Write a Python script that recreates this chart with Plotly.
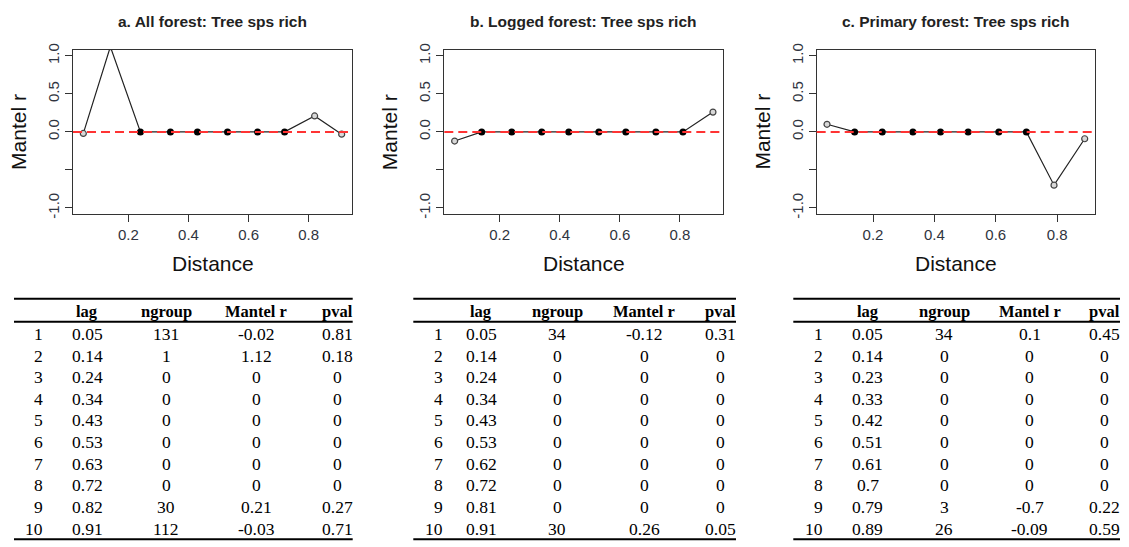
import plotly.graph_objects as go

W, H = 1129, 547

titles = ["a. All forest: Tree sps rich", "b. Logged forest: Tree sps rich", "c. Primary forest: Tree sps rich"]
row_ids = [1, 2, 3, 4, 5, 6, 7, 8, 9, 10]

lag_a = [0.05, 0.14, 0.24, 0.34, 0.43, 0.53, 0.63, 0.72, 0.82, 0.91]
ngroup_a = [131, 1, 0, 0, 0, 0, 0, 0, 30, 112]
mantel_a = [-0.02, 1.12, 0, 0, 0, 0, 0, 0, 0.21, -0.03]
pval_a = [0.81, 0.18, 0, 0, 0, 0, 0, 0, 0.27, 0.71]

lag_b = [0.05, 0.14, 0.24, 0.34, 0.43, 0.53, 0.62, 0.72, 0.81, 0.91]
ngroup_b = [34, 0, 0, 0, 0, 0, 0, 0, 0, 30]
mantel_b = [-0.12, 0, 0, 0, 0, 0, 0, 0, 0, 0.26]
pval_b = [0.31, 0, 0, 0, 0, 0, 0, 0, 0, 0.05]

lag_c = [0.05, 0.14, 0.23, 0.33, 0.42, 0.51, 0.61, 0.7, 0.79, 0.89]
ngroup_c = [34, 0, 0, 0, 0, 0, 0, 0, 3, 26]
mantel_c = [0.1, 0, 0, 0, 0, 0, 0, 0, -0.7, -0.09]
pval_c = [0.45, 0, 0, 0, 0, 0, 0, 0, 0.22, 0.59]

col_headers = ["lag", "ngroup", "Mantel r", "pval"]
x_ticks = [0.2, 0.4, 0.6, 0.8]
y_ticks = [-1.0, -0.5, 0.0, 0.5, 1.0]
y_ticktext = ["-1.0", "", "0.0", "0.5", "1.0"]

panels = [
    dict(lag=lag_a, ng=ngroup_a, mr=mantel_a, pv=pval_a),
    dict(lag=lag_b, ng=ngroup_b, mr=mantel_b, pv=pval_b),
    dict(lag=lag_c, ng=ngroup_c, mr=mantel_c, pv=pval_c),
]

# layout geometry (pixels)
box_x = [(73, 352), (444.3, 723.3), (816.7, 1095)]
box_y = (43.7, 211.7)
tbl_x = [(14, 352.7), (413.3, 736), (793.3, 1120)]
tbl_cols = [
    (45, 87.3, 166, 256, 337),
    (445, 481, 557, 644, 720),
    (825, 867.8, 944, 1029.5, 1104),
]

def px(x):
    return x / W

def py(y):
    return 1 - y / H

SANS = "Liberation Sans, Arial, sans-serif"
SERIF = "Liberation Serif, Times New Roman, serif"
AXC = "#333333"

fig = go.Figure()
annotations = []
shapes = []

def fmt(v):
    s = repr(v)
    if s.endswith(".0"):
        s = s[:-2]
    return s

for i, p in enumerate(panels):
    xa = "x" if i == 0 else f"x{i+1}"
    ya = "y" if i == 0 else f"y{i+1}"
    lag, mr, pv = p["lag"], p["mr"], p["pv"]
    fig.add_trace(go.Scatter(x=lag, y=mr, mode="lines", xaxis=xa, yaxis=ya,
                             line=dict(color="#222222", width=1.2), showlegend=False,
                             hoverinfo="skip"))
    xo = [l for l, q in zip(lag, pv) if q >= 0.05]
    yo = [m for m, q in zip(mr, pv) if q >= 0.05]
    fig.add_trace(go.Scatter(x=xo, y=yo, mode="markers", xaxis=xa, yaxis=ya,
                             marker=dict(symbol="circle", size=6, color="#d8d8d8",
                                         line=dict(color="#444444", width=1.2)),
                             showlegend=False))
    xf = [l for l, q in zip(lag, pv) if q < 0.05]
    yf = [m for m, q in zip(mr, pv) if q < 0.05]
    fig.add_trace(go.Scatter(x=xf, y=yf, mode="markers", xaxis=xa, yaxis=ya,
                             marker=dict(symbol="circle", size=7, color="#000000"),
                             showlegend=False))
    span = max(lag) - min(lag)
    xr = [min(lag) - 0.04 * span, max(lag) + 0.04 * span]
    x0, x1 = box_x[i]
    axis_common = dict(showline=True, mirror=True, linecolor=AXC, linewidth=1.3,
                       showgrid=False, zeroline=False, ticks="outside", ticklen=7,
                       tickcolor=AXC, tickwidth=1.2,
                       tickfont=dict(family=SANS, size=15, color="#2f3440"))
    fig.update_layout(**{
        ("xaxis" if i == 0 else f"xaxis{i+1}"): dict(
            domain=[px(x0), px(x1)], anchor=ya, range=xr,
            tickvals=x_ticks, ticktext=[f"{t:.1f}" for t in x_ticks], **axis_common),
        ("yaxis" if i == 0 else f"yaxis{i+1}"): dict(
            domain=[py(box_y[1]), py(box_y[0])], anchor=xa, range=[-1.08, 1.08],
            tickvals=y_ticks, ticktext=y_ticktext, tickangle=-90, **axis_common),
    })
    shapes.append(dict(type="line", xref=f"{xa} domain", yref=ya, x0=0, x1=1, y0=0, y1=0,
                       line=dict(color="#ff3333", width=2, dash="9px,5px"), layer="above"))
    cx = (x0 + x1) / 2
    annotations.append(dict(text=f"<b>{titles[i]}</b>", x=px(cx), y=py(15), xref="paper", yref="paper",
                            showarrow=False, xanchor="center", yanchor="middle",
                            font=dict(family=SANS, size=15.5, color="#222222")))
    annotations.append(dict(text="Distance", x=px(cx), y=py(262), xref="paper", yref="paper",
                            showarrow=False, xanchor="center", yanchor="middle",
                            font=dict(family=SANS, size=21, color="#111111")))
    annotations.append(dict(text="Mantel r", x=px(x0 - 54), y=py((box_y[0] + box_y[1]) / 2),
                            xref="paper", yref="paper", showarrow=False, textangle=-90,
                            xanchor="center", yanchor="middle",
                            font=dict(family=SANS, size=21, color="#111111")))

    tl, tr = tbl_x[i]
    for yy in (298.3, 321.7, 544.3):
        shapes.append(dict(type="line", xref="paper", yref="paper", x0=px(tl), x1=px(tr),
                           y0=py(yy), y1=py(yy), line=dict(color="#000000", width=2)))
    cols = tbl_cols[i]
    for j, h in enumerate(col_headers):
        annotations.append(dict(text=f"<b>{h}</b>", x=px(cols[j + 1]), y=py(311.5),
                                xref="paper", yref="paper", showarrow=False,
                                xanchor="center", yanchor="middle",
                                font=dict(family=SERIF, size=16.5, color="#000000")))
    for r in range(len(row_ids)):
        yy = 334.3 + r * 22.1
        annotations.append(dict(text=str(row_ids[r]), x=px(cols[0]), y=py(yy), xref="paper",
                                yref="paper", showarrow=False, xanchor="right", yanchor="middle",
                                font=dict(family=SERIF, size=17.5, color="#000000")))
        vals = [fmt(p["lag"][r]), fmt(p["ng"][r]), fmt(p["mr"][r]), fmt(p["pv"][r])]
        for j, v in enumerate(vals):
            annotations.append(dict(text=v, x=px(cols[j + 1]), y=py(yy), xref="paper",
                                    yref="paper", showarrow=False, xanchor="center",
                                    yanchor="middle",
                                    font=dict(family=SERIF, size=17.5, color="#000000")))

fig.update_layout(width=W, height=H, margin=dict(l=0, r=0, t=0, b=0),
                  paper_bgcolor="white", plot_bgcolor="white",
                  annotations=annotations, shapes=shapes, showlegend=False)

fig.write_html("out.html")
